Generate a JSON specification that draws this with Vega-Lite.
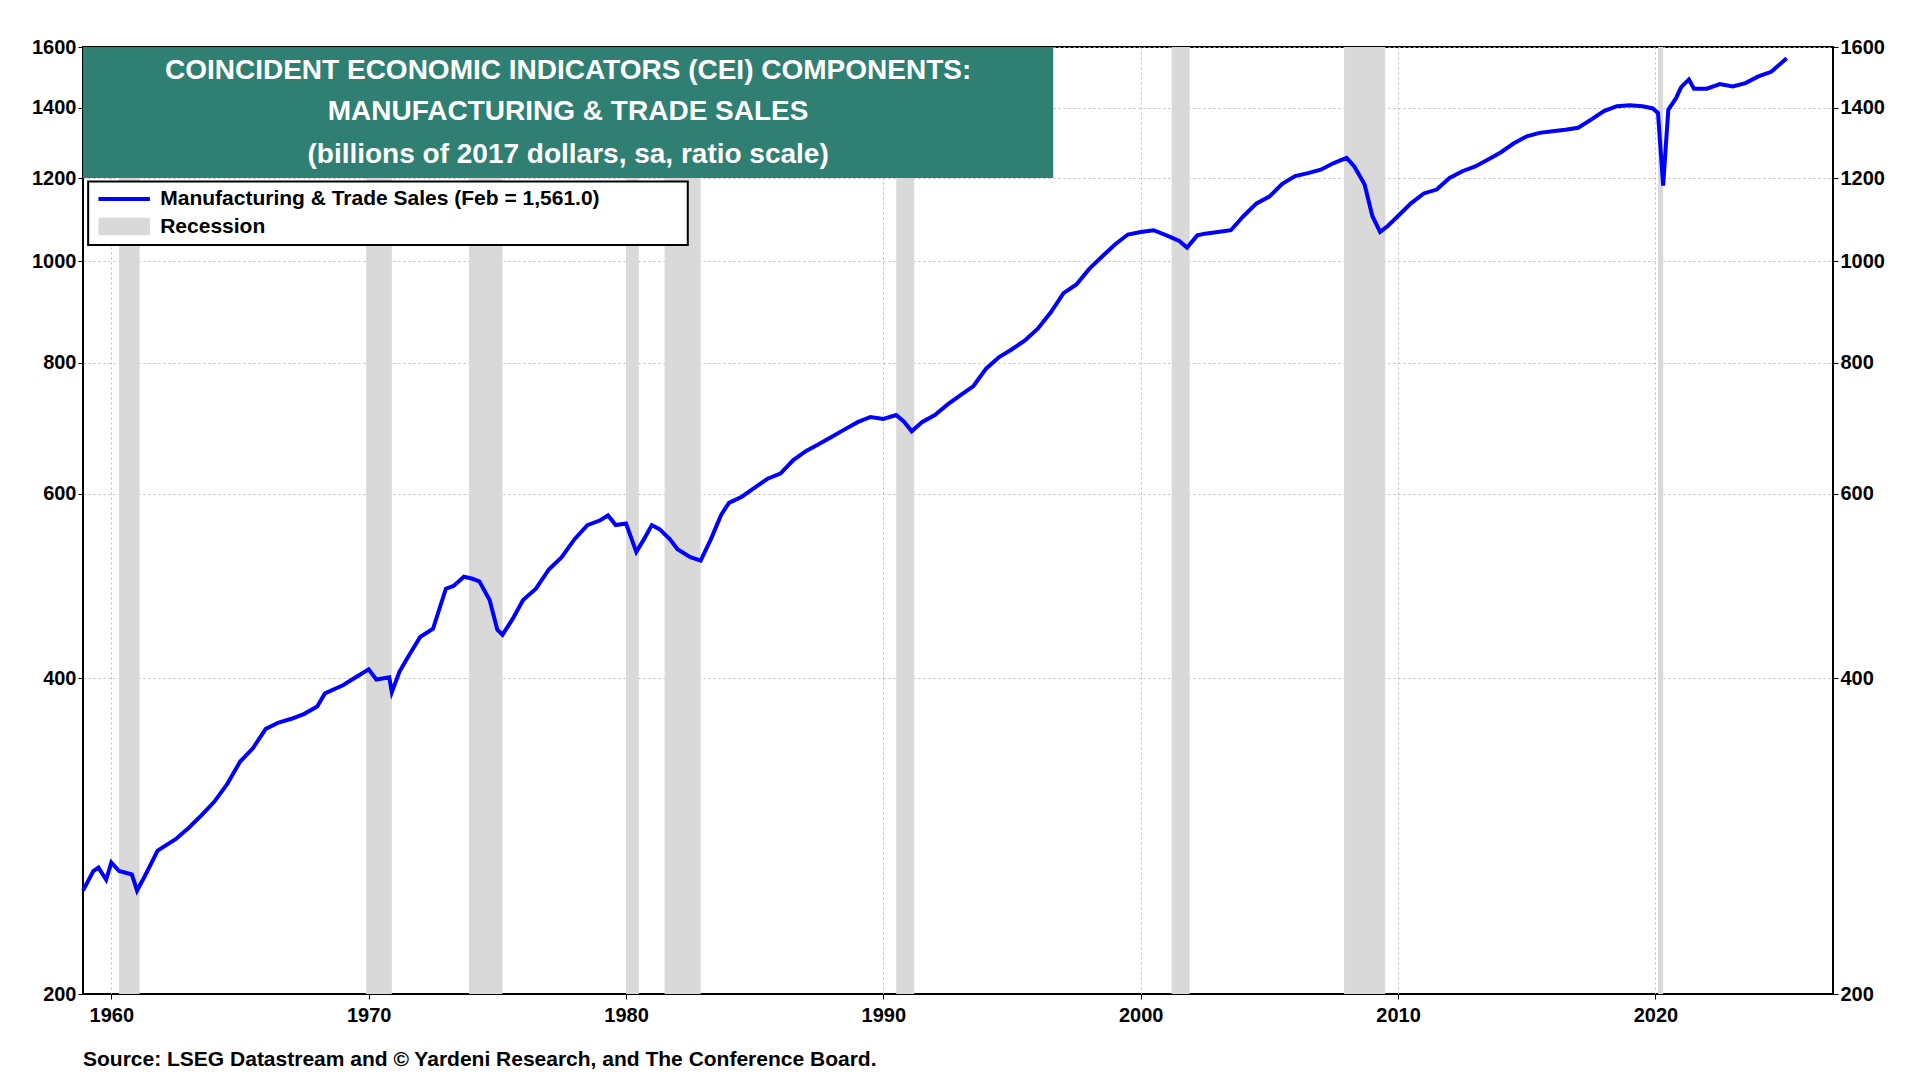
{
  "$schema": "https://vega.github.io/schema/vega-lite/v6.json",
  "width": 1750,
  "height": 947,
  "autosize": {"type": "none"},
  "padding": {"left": 83, "top": 47, "right": 87, "bottom": 86},
  "background": "white",
  "config": {
    "font": "Liberation Sans",
    "view": {"stroke": "black", "strokeWidth": 2},
    "axis": {"labelFont": "Liberation Sans", "labelFontWeight": "bold", "labelFontSize": 20, "labelColor": "black",
      "domainColor": "black", "tickColor": "black", "gridColor": "#bbbbbb", "gridDash": [2, 3], "title": null}
  },
  "title": {"text": "Source: LSEG Datastream and © Yardeni Research, and The Conference Board.", "orient": "bottom",
    "anchor": "start", "frame": "group", "offset": 24, "fontSize": 21, "fontWeight": "bold", "color": "black", "font": "Liberation Sans"},
  "datasets": {
    "series": [
      {"t": 1958.9, "v": 251}, {"t": 1959.3, "v": 262}, {"t": 1959.5, "v": 264}, {"t": 1959.8, "v": 257},
      {"t": 1960.0, "v": 267}, {"t": 1960.3, "v": 262}, {"t": 1960.8, "v": 260}, {"t": 1961.0, "v": 251},
      {"t": 1961.3, "v": 259}, {"t": 1961.8, "v": 274}, {"t": 1962.5, "v": 281}, {"t": 1963.0, "v": 288},
      {"t": 1963.5, "v": 296}, {"t": 1964.0, "v": 305}, {"t": 1964.5, "v": 317}, {"t": 1965.0, "v": 333},
      {"t": 1965.5, "v": 343}, {"t": 1966.0, "v": 358}, {"t": 1966.5, "v": 363}, {"t": 1967.0, "v": 366},
      {"t": 1967.5, "v": 370}, {"t": 1968.0, "v": 376}, {"t": 1968.3, "v": 387}, {"t": 1969.0, "v": 394},
      {"t": 1969.5, "v": 401}, {"t": 1970.0, "v": 408}, {"t": 1970.3, "v": 399}, {"t": 1970.8, "v": 401},
      {"t": 1970.9, "v": 388}, {"t": 1971.2, "v": 406}, {"t": 1971.5, "v": 418}, {"t": 1972.0, "v": 438},
      {"t": 1972.5, "v": 446}, {"t": 1973.0, "v": 487}, {"t": 1973.3, "v": 490}, {"t": 1973.7, "v": 500},
      {"t": 1974.0, "v": 498}, {"t": 1974.3, "v": 495}, {"t": 1974.7, "v": 475}, {"t": 1975.0, "v": 445},
      {"t": 1975.2, "v": 440}, {"t": 1975.6, "v": 456}, {"t": 1976.0, "v": 475}, {"t": 1976.5, "v": 487},
      {"t": 1977.0, "v": 508}, {"t": 1977.5, "v": 522}, {"t": 1978.0, "v": 543}, {"t": 1978.5, "v": 560},
      {"t": 1979.0, "v": 566}, {"t": 1979.3, "v": 572}, {"t": 1979.6, "v": 560}, {"t": 1980.0, "v": 562},
      {"t": 1980.4, "v": 528}, {"t": 1980.7, "v": 543}, {"t": 1981.0, "v": 560}, {"t": 1981.3, "v": 555},
      {"t": 1981.7, "v": 543}, {"t": 1982.0, "v": 531}, {"t": 1982.5, "v": 522}, {"t": 1982.9, "v": 518},
      {"t": 1983.3, "v": 543}, {"t": 1983.7, "v": 573}, {"t": 1984.0, "v": 588}, {"t": 1984.5, "v": 596},
      {"t": 1985.0, "v": 608}, {"t": 1985.5, "v": 620}, {"t": 1986.0, "v": 627}, {"t": 1986.5, "v": 646},
      {"t": 1987.0, "v": 659}, {"t": 1987.5, "v": 669}, {"t": 1988.0, "v": 680}, {"t": 1988.5, "v": 691},
      {"t": 1989.0, "v": 702}, {"t": 1989.5, "v": 710}, {"t": 1990.0, "v": 707}, {"t": 1990.5, "v": 713},
      {"t": 1990.8, "v": 703}, {"t": 1991.1, "v": 688}, {"t": 1991.5, "v": 702}, {"t": 1992.0, "v": 713},
      {"t": 1992.5, "v": 730}, {"t": 1993.0, "v": 745}, {"t": 1993.5, "v": 760}, {"t": 1994.0, "v": 790},
      {"t": 1994.5, "v": 810}, {"t": 1995.0, "v": 824}, {"t": 1995.5, "v": 840}, {"t": 1996.0, "v": 862},
      {"t": 1996.5, "v": 893}, {"t": 1997.0, "v": 932}, {"t": 1997.5, "v": 950}, {"t": 1998.0, "v": 983},
      {"t": 1998.5, "v": 1010}, {"t": 1999.0, "v": 1037}, {"t": 1999.5, "v": 1060}, {"t": 2000.0, "v": 1066},
      {"t": 2000.5, "v": 1070}, {"t": 2001.0, "v": 1058}, {"t": 2001.5, "v": 1045}, {"t": 2001.8, "v": 1030},
      {"t": 2002.2, "v": 1058}, {"t": 2002.5, "v": 1062}, {"t": 2003.0, "v": 1066}, {"t": 2003.5, "v": 1070},
      {"t": 2004.0, "v": 1104}, {"t": 2004.5, "v": 1135}, {"t": 2005.0, "v": 1152}, {"t": 2005.5, "v": 1185},
      {"t": 2006.0, "v": 1205}, {"t": 2006.5, "v": 1213}, {"t": 2007.0, "v": 1222}, {"t": 2007.5, "v": 1240},
      {"t": 2008.0, "v": 1254}, {"t": 2008.3, "v": 1231}, {"t": 2008.7, "v": 1183}, {"t": 2009.0, "v": 1104},
      {"t": 2009.3, "v": 1066}, {"t": 2009.6, "v": 1080}, {"t": 2010.0, "v": 1104}, {"t": 2010.5, "v": 1135},
      {"t": 2011.0, "v": 1160}, {"t": 2011.5, "v": 1170}, {"t": 2012.0, "v": 1200}, {"t": 2012.5, "v": 1218},
      {"t": 2013.0, "v": 1231}, {"t": 2013.5, "v": 1250}, {"t": 2014.0, "v": 1270}, {"t": 2014.5, "v": 1295},
      {"t": 2015.0, "v": 1315}, {"t": 2015.5, "v": 1325}, {"t": 2016.0, "v": 1330}, {"t": 2016.5, "v": 1334},
      {"t": 2017.0, "v": 1340}, {"t": 2017.5, "v": 1364}, {"t": 2018.0, "v": 1390}, {"t": 2018.5, "v": 1405},
      {"t": 2019.0, "v": 1408}, {"t": 2019.5, "v": 1405}, {"t": 2019.9, "v": 1398}, {"t": 2020.1, "v": 1384},
      {"t": 2020.3, "v": 1180}, {"t": 2020.5, "v": 1394}, {"t": 2020.8, "v": 1430}, {"t": 2021.0, "v": 1465},
      {"t": 2021.3, "v": 1490}, {"t": 2021.5, "v": 1460}, {"t": 2022.0, "v": 1460}, {"t": 2022.5, "v": 1475},
      {"t": 2023.0, "v": 1467}, {"t": 2023.5, "v": 1478}, {"t": 2024.0, "v": 1500}, {"t": 2024.5, "v": 1515},
      {"t": 2025.1, "v": 1561}
    ],
    "rec": [
      {"s": 1960.3, "e": 1961.1}, {"s": 1969.9, "e": 1970.9}, {"s": 1973.9, "e": 1975.2},
      {"s": 1980.0, "e": 1980.5}, {"s": 1981.5, "e": 1982.9}, {"s": 1990.5, "e": 1991.2},
      {"s": 2001.2, "e": 2001.9}, {"s": 2007.9, "e": 2009.5}, {"s": 2020.1, "e": 2020.3}
    ],
    "titlebox": [{"x": 1958.9, "x2": 1996.6, "y": 1600, "y2": 1200}],
    "titletext": [
      {"t": 1977.75, "v": 1517, "label": "COINCIDENT ECONOMIC INDICATORS (CEI) COMPONENTS:"},
      {"t": 1977.75, "v": 1388, "label": "MANUFACTURING & TRADE SALES"},
      {"t": 1977.75, "v": 1263, "label": "(billions of 2017 dollars, sa, ratio scale)"}
    ],
    "legbox": [{"x": 1959.1, "x2": 1982.4, "y": 1191, "y2": 1036}],
    "legtext": [
      {"t": 1961.9, "v": 1146, "label": "Manufacturing & Trade Sales (Feb = 1,561.0)"},
      {"t": 1961.9, "v": 1078, "label": "Recession"}
    ],
    "legline": [{"t": 1959.5, "v": 1146}, {"t": 1961.5, "v": 1146}],
    "legswatch": [{"x": 1959.5, "x2": 1961.5, "y": 1100, "y2": 1058}]
  },
  "layer": [
    {
      "data": {"name": "rec"},
      "mark": {"type": "rect", "color": "#d9d9d9"},
      "encoding": {
        "x": {"field": "s", "type": "quantitative",
          "scale": {"domain": [1958.9, 2026.9], "nice": false, "zero": false},
          "axis": {"values": [1960, 1970, 1980, 1990, 2000, 2010, 2020], "format": "d", "grid": true, "labelPadding": 6}},
        "x2": {"field": "e"}
      }
    },
    {
      "data": {"name": "series"},
      "mark": {"type": "line", "color": "#0000ff", "strokeWidth": 4},
      "encoding": {
        "x": {"field": "t", "type": "quantitative"},
        "y": {"field": "v", "type": "quantitative",
          "scale": {"type": "log", "domain": [200, 1600], "nice": false},
          "axis": {"orient": "left", "values": [200, 400, 600, 800, 1000, 1200, 1400, 1600], "format": "d", "grid": true}}
      }
    },
    {
      "data": {"name": "series"},
      "mark": {"type": "line", "opacity": 0},
      "encoding": {
        "x": {"field": "t", "type": "quantitative"},
        "y": {"field": "v", "type": "quantitative",
          "axis": {"orient": "right", "values": [200, 400, 600, 800, 1000, 1200, 1400, 1600], "format": "d", "grid": false}}
      }
    },
    {
      "data": {"name": "titlebox"},
      "mark": {"type": "rect", "color": "#2f7f73"},
      "encoding": {
        "x": {"field": "x", "type": "quantitative"}, "x2": {"field": "x2"},
        "y": {"field": "y", "type": "quantitative", "axis": null}, "y2": {"field": "y2"}
      }
    },
    {
      "data": {"name": "titletext"},
      "mark": {"type": "text", "color": "white", "fontSize": 28, "fontWeight": "bold", "align": "center", "baseline": "middle"},
      "encoding": {
        "x": {"field": "t", "type": "quantitative"},
        "y": {"field": "v", "type": "quantitative", "axis": null},
        "text": {"field": "label"}
      }
    },
    {
      "data": {"name": "legbox"},
      "mark": {"type": "rect", "fill": "white", "stroke": "black", "strokeWidth": 2},
      "encoding": {
        "x": {"field": "x", "type": "quantitative"}, "x2": {"field": "x2"},
        "y": {"field": "y", "type": "quantitative", "axis": null}, "y2": {"field": "y2"}
      }
    },
    {
      "data": {"name": "legline"},
      "mark": {"type": "line", "color": "#0000ff", "strokeWidth": 4},
      "encoding": {
        "x": {"field": "t", "type": "quantitative"},
        "y": {"field": "v", "type": "quantitative", "axis": null}
      }
    },
    {
      "data": {"name": "legswatch"},
      "mark": {"type": "rect", "color": "#d9d9d9"},
      "encoding": {
        "x": {"field": "x", "type": "quantitative"}, "x2": {"field": "x2"},
        "y": {"field": "y", "type": "quantitative", "axis": null}, "y2": {"field": "y2"}
      }
    },
    {
      "data": {"name": "legtext"},
      "mark": {"type": "text", "color": "black", "fontSize": 21, "fontWeight": "bold", "align": "left", "baseline": "middle"},
      "encoding": {
        "x": {"field": "t", "type": "quantitative"},
        "y": {"field": "v", "type": "quantitative", "axis": null},
        "text": {"field": "label"}
      }
    }
  ],
  "resolve": {"axis": {"y": "independent"}}
}
